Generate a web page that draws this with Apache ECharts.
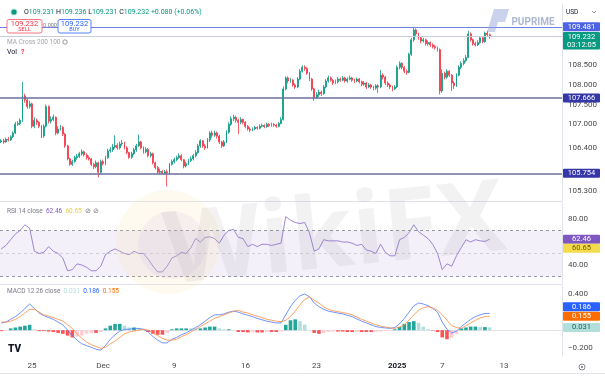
<!DOCTYPE html>
<html lang="en">
<head>
<meta charset="UTF-8">
<title>USDJPY 4H</title>
<script src="https://cdn.jsdelivr.net/npm/echarts/dist/echarts.min.js"></script>
<style>
  body { margin: 0; background: #fff; }
  #root { width: 605px; height: 378px; }
</style>
</head>
<body>
<div id="root"></div>
<script>
// ---- data (4h candles) ----
var SLOTS = 237;              // bars incl. empty space on the right
var firstOpen = 106.55;

var closes = [
  106.58,106.55,106.62,106.60,106.68,106.78,107.00,107.02,107.10,107.72,
  107.62,107.45,107.52,106.95,107.10,107.05,106.95,106.70,106.95,107.45,
  107.08,107.12,107.18,106.78,106.88,106.92,106.75,106.45,106.12,105.98,
  106.05,106.15,106.18,106.25,106.30,106.22,106.15,106.12,105.98,105.92,
  106.02,105.78,106.05,106.00,106.15,106.32,106.35,106.42,106.46,106.40,
  106.50,106.52,106.40,106.28,106.16,106.25,106.35,106.45,106.55,106.40,
  106.30,106.36,106.20,106.25,106.02,105.90,105.78,105.80,105.76,105.79,
  105.77,105.98,106.05,106.10,106.15,106.20,106.10,105.94,106.00,106.08,
  106.12,106.20,106.28,106.45,106.58,106.45,106.40,106.60,106.78,106.72,
  106.78,106.70,106.55,106.45,106.55,106.80,107.00,107.14,107.18,107.10,
  107.05,107.12,107.05,106.95,106.88,106.85,106.88,106.92,106.90,106.95,
  106.97,106.94,107.00,106.97,107.00,106.98,106.95,107.02,107.12,107.90,
  108.18,108.10,108.12,108.00,107.95,108.15,108.35,108.45,108.42,108.30,
  108.15,107.90,107.68,107.75,107.82,107.78,107.95,108.10,108.18,108.12,
  108.05,108.08,108.15,108.12,108.18,108.10,108.15,108.18,108.12,108.10,
  108.15,108.08,108.02,108.05,107.95,108.00,107.95,107.92,107.98,107.95,
  108.25,108.20,108.05,108.00,107.95,107.90,107.95,108.45,108.55,108.45,
  108.35,108.32,108.78,109.15,109.40,109.30,109.20,109.12,109.15,109.05,
  109.08,109.02,108.98,108.95,108.90,107.85,108.30,108.20,108.35,108.25,
  108.05,107.98,108.25,108.45,108.55,108.62,108.70,109.30,109.15,109.05,
  109.02,109.08,109.20,109.10,109.32,109.28,109.231,109.232
];
var highs = [
  106.62,106.63,106.66,106.68,106.72,106.82,107.06,107.08,107.15,108.08,
  107.78,107.66,107.60,107.55,107.18,107.15,107.08,106.98,107.00,107.50,
  107.48,107.20,107.25,107.20,106.95,106.98,106.96,106.78,106.48,106.15,
  106.10,106.20,106.24,106.30,106.36,106.33,106.26,106.20,106.14,106.02,
  106.08,106.05,106.10,106.10,106.20,106.38,106.42,106.50,106.72,106.52,
  106.56,106.60,106.56,106.44,106.30,106.30,106.40,106.50,106.74,106.58,
  106.44,106.42,106.40,106.30,106.28,106.05,105.94,105.86,105.84,105.84,
  105.85,106.02,106.10,106.15,106.20,106.26,106.24,106.12,106.05,106.12,
  106.18,106.25,106.34,106.50,106.62,106.60,106.50,106.65,106.82,106.84,
  106.84,106.82,106.73,106.58,106.60,106.85,107.05,107.20,107.24,107.22,
  107.14,107.18,107.15,107.08,106.98,106.92,106.92,106.96,106.95,107.00,
  107.02,107.00,107.04,107.03,107.04,107.03,107.01,107.06,107.18,107.96,
  108.22,108.22,108.18,108.15,108.04,108.20,108.40,108.50,108.50,108.45,
  108.33,108.18,107.93,107.82,107.88,107.86,108.00,108.15,108.24,108.22,
  108.15,108.14,108.20,108.19,108.23,108.21,108.19,108.24,108.21,108.16,
  108.19,108.18,108.11,108.10,108.08,108.05,108.03,107.98,108.02,108.02,
  108.38,108.30,108.23,108.09,108.04,107.98,108.00,108.50,108.60,108.58,
  108.48,108.40,108.82,109.20,109.48,109.44,109.33,109.24,109.20,109.18,
  109.13,109.11,109.06,109.02,108.98,108.93,108.40,108.34,108.40,108.38,
  108.28,108.10,108.30,108.50,108.60,108.68,108.76,109.38,109.34,109.18,
  109.10,109.14,109.25,109.24,109.36,109.38,109.31,109.236
];
var lows = [
  106.52,106.50,106.53,106.56,106.58,106.65,106.75,106.96,106.98,107.06,
  107.55,107.40,107.40,106.90,106.90,106.98,106.90,106.65,106.66,106.92,
  107.02,107.02,107.08,106.72,106.74,106.84,106.70,106.40,106.08,105.95,
  105.94,106.02,106.10,106.14,106.20,106.18,106.10,106.08,105.94,105.86,
  105.88,105.65,105.74,105.95,105.96,106.12,106.28,106.30,106.38,106.35,
  106.36,106.45,106.36,106.24,106.12,106.12,106.22,106.30,106.42,106.36,
  106.25,106.26,106.16,106.15,105.98,105.85,105.74,105.74,105.72,105.72,
  105.42,105.74,105.95,106.00,106.06,106.12,106.06,105.88,105.90,105.96,
  106.04,106.08,106.16,106.25,106.40,106.40,106.35,106.38,106.55,106.66,
  106.68,106.64,106.50,106.40,106.42,106.52,106.76,106.96,107.08,107.04,
  106.75,107.00,107.00,106.90,106.84,106.80,106.82,106.85,106.86,106.87,
  106.92,106.90,106.91,106.93,106.94,106.94,106.91,106.92,107.00,107.10,
  107.86,108.04,108.05,107.96,107.90,107.92,108.12,108.32,108.36,108.26,
  108.10,107.85,107.60,107.64,107.70,107.72,107.75,107.92,108.06,108.08,
  108.00,108.02,108.04,108.08,108.10,108.06,108.06,108.12,108.08,108.05,
  108.07,108.04,107.97,107.98,107.90,107.92,107.90,107.86,107.88,107.80,
  107.92,108.14,108.00,107.95,107.90,107.84,107.87,107.92,108.40,108.40,
  108.30,108.26,108.30,108.74,109.10,109.25,109.15,109.06,109.08,109.00,
  109.00,108.97,108.93,108.90,108.85,107.76,107.80,108.14,108.16,108.20,
  107.85,107.90,107.95,108.22,108.40,108.50,108.58,108.68,109.10,109.00,
  108.98,108.99,109.05,109.06,109.08,109.22,109.18,109.231
];

// indicators, one reading every 2nd bar
var rsi = [
  54,57,62,67,70,75,72,52,50,51, 56,52,50,46,35,36,41,40,38,35,
  35,39,49,52,54,52,50,49,52,50, 50,45,39,34,34,39,46,48,51,50,
  55,63,60,64,64.5,63,59,66,70,71, 64,63,56,58,56,58,58,57,58,59,
  82,79,77,76,77,68,52,54,62,61, 61,61,60,60,59,57,58,53,52,50,
  58,51,48,48,62,64,68,75,69,66, 63,58,50,36,41,39,48,55,62,60,
  62,61,60.5,62.46
];
var rsiMaLast = 60.65;
var macd = [
  0.08,0.09,0.12,0.15,0.19,0.24,0.29,0.24,0.19,0.16,
  0.14,0.12,0.09,0.06,0.0,-0.06,-0.11,-0.15,-0.17,-0.19,
  -0.21,-0.22,-0.17,-0.10,-0.05,-0.01,0.01,0.01,0.02,0.02,
  0.01,-0.02,-0.07,-0.11,-0.14,-0.14,-0.10,-0.08,-0.05,-0.03,
  0.0,0.03,0.06,0.10,0.14,0.17,0.17,0.18,0.20,0.21,
  0.20,0.18,0.165,0.15,0.13,0.115,0.10,0.09,0.08,0.08,
  0.17,0.26,0.33,0.38,0.40,0.37,0.30,0.26,0.23,0.21,
  0.20,0.19,0.18,0.165,0.15,0.125,0.10,0.08,0.06,0.04,
  0.03,0.025,0.02,0.03,0.07,0.13,0.20,0.27,0.30,0.29,
  0.27,0.24,0.20,0.09,0.01,-0.03,-0.01,0.04,0.08,0.12,
  0.15,0.17,0.185,0.186
];
var signal = [
  0.09,0.09,0.10,0.12,0.15,0.19,0.23,0.23,0.20,0.17,
  0.155,0.14,0.12,0.10,0.06,0.02,-0.04,-0.09,-0.13,-0.16,
  -0.18,-0.20,-0.19,-0.15,-0.12,-0.08,-0.04,-0.02,-0.01,0.0,
  0.01,0.0,-0.03,-0.06,-0.09,-0.11,-0.11,-0.10,-0.07,-0.05,
  -0.02,0.01,0.04,0.07,0.10,0.13,0.15,0.17,0.19,0.21,
  0.22,0.20,0.19,0.17,0.155,0.14,0.12,0.11,0.10,0.095,
  0.11,0.15,0.21,0.28,0.34,0.37,0.33,0.30,0.26,0.23,
  0.215,0.205,0.195,0.185,0.17,0.145,0.12,0.10,0.08,0.06,
  0.045,0.035,0.025,0.02,0.035,0.06,0.11,0.17,0.22,0.25,
  0.26,0.245,0.22,0.17,0.11,0.05,0.03,0.02,0.05,0.08,
  0.11,0.135,0.15,0.155
];

var levels = [109.481, 107.666, 105.754];
var timeTicks = [13, 43, 73, 103, 133, 167, 186, 212];
var timeLabels = ['25', 'Dec', '9', '16', '23', '2025', '7', '13'];
var priceTicks = [105.3, 106.4, 107.0, 107.5, 108.0, 108.5, 109.0];
var rsiTicks = [40, 80];
var macdTicks = [-0.2, 0.4];
var countdown = '03:12:05';

// ---- build ----
var FONT = 'Roboto, "Noto Sans", sans-serif';
var UP = '#089981', DOWN = '#f23645';

var cats = [];
for (var s = 0; s < SLOTS; s++) cats.push('b' + s);

var candles = closes.map(function (c, i) {
    var o = i === 0 ? firstOpen : closes[i - 1];
    return [o, c, Math.min(lows[i], o, c), Math.max(highs[i], o, c)];
});
var rsiPts = rsi.map(function (v, k) { return [k * 2, v]; });
var macdPts = macd.map(function (v, k) { return [k * 2, v]; });
var sigPts = signal.map(function (v, k) { return [k * 2, v]; });
var histPts = macd.map(function (v, k) {
    var h = v - signal[k];
    var prev = k > 0 ? macd[k - 1] - signal[k - 1] : h;
    var col = h >= 0 ? (h >= prev ? '#26a69a' : '#b2dfdb') : (h <= prev ? '#ff5252' : '#ffcdd2');
    return { value: [k * 2, h], itemStyle: { color: col } };
});

var chart = echarts.init(document.getElementById('root'));

function xAxisFor(g) {
    return {
        type: 'category', gridIndex: g, data: cats, boundaryGap: true,
        axisLine: { show: true, lineStyle: { color: '#e0e3eb' } },
        axisTick: { show: false },
        splitLine: { show: false },
        axisLabel: g === 2 ? {
            interval: function (idx) { return timeTicks.indexOf(idx) >= 0; },
            formatter: function (v, idx) {
                var k = timeTicks.indexOf(idx);
                if (k < 0) return '';
                return timeLabels[k] === '2025' ? '{b|2025}' : timeLabels[k];
            },
            rich: { b: { fontWeight: 'bold', color: '#131722', fontSize: 8, fontFamily: FONT } },
            color: '#4a4a4a', fontSize: 8, margin: 6, fontFamily: FONT
        } : { show: false }
    };
}

function yAxisFor(g, min, max, ticks, fmt) {
    return {
        type: 'value', gridIndex: g, position: 'right', min: min, max: max,
        axisLine: { show: true, lineStyle: { color: '#e0e3eb' } },
        axisTick: { show: false },
        splitLine: { show: false },
        axisLabel: { customValues: ticks, formatter: fmt, color: '#4a4a4a', fontSize: 8, margin: 6, fontFamily: FONT }
    };
}

var option = {
    animation: false,
    backgroundColor: '#ffffff',
    grid: [
        { left: 0, right: 43, top: 4, height: 197 },
        { left: 0, right: 43, top: 203, height: 81 },
        { left: 0, right: 43, top: 286, height: 70 }
    ],
    xAxis: [xAxisFor(0), xAxisFor(1), xAxisFor(2)],
    yAxis: [
        yAxisFor(0, 105.048, 110.061, priceTicks, function (v) { return v.toFixed(3); }),
        yAxisFor(1, 23.48, 93.91, rsiTicks, function (v) { return v.toFixed(2); }),
        yAxisFor(2, -0.2851, 0.4884, macdTicks, function (v) { return (v < 0 ? '\u2212' : '') + Math.abs(v).toFixed(3); })
    ],
    series: [
        {
            type: 'candlestick', xAxisIndex: 0, yAxisIndex: 0, data: candles,
            barWidth: 1.4,
            itemStyle: { color: UP, color0: DOWN, borderColor: UP, borderColor0: DOWN, borderWidth: 0.8 },
            markLine: {
                silent: true, symbol: 'none', label: { show: false },
                data: [
                    { yAxis: levels[0], lineStyle: { color: '#7282e2', width: 1, type: 'solid' } },
                    { yAxis: levels[1], lineStyle: { color: '#6b6f9c', width: 1.6, type: 'solid' } },
                    { yAxis: levels[2], lineStyle: { color: '#6b6f9c', width: 1.6, type: 'solid' } },
                    { yAxis: closes[closes.length - 1], lineStyle: { color: '#c8cdd8', width: 1, type: 'solid' } }
                ]
            }
        },
        {
            type: 'line', xAxisIndex: 1, yAxisIndex: 1, data: rsiPts, showSymbol: false,
            lineStyle: { color: '#8a68c9', width: 0.8 },
            markArea: {
                silent: true,
                itemStyle: { color: 'rgba(126,87,194,0.09)' },
                data: [[{ yAxis: 30 }, { yAxis: 70 }]]
            },
            markLine: {
                silent: true, symbol: 'none', label: { show: false },
                data: [
                    { yAxis: 70, lineStyle: { color: '#9598a1', width: 1, type: [3, 3] } },
                    { yAxis: 50, lineStyle: { color: 'rgba(149,152,161,0.35)', width: 1, type: [3, 3] } },
                    { yAxis: 30, lineStyle: { color: '#9598a1', width: 1, type: [3, 3] } }
                ]
            }
        },
        {
            type: 'bar', xAxisIndex: 2, yAxisIndex: 2, data: histPts, barWidth: 3.6
        },
        {
            type: 'line', xAxisIndex: 2, yAxisIndex: 2, data: macdPts, showSymbol: false,
            lineStyle: { color: '#4a78ff', width: 0.8 }
        },
        {
            type: 'line', xAxisIndex: 2, yAxisIndex: 2, data: sigPts, showSymbol: false,
            lineStyle: { color: '#ff8a3d', width: 0.8 }
        }
    ]
};
chart.setOption(option);

// ---- static texts / decorations ----
var gfx = [
    // WikiFX watermark
    { type: 'circle', z: 50, silent: true, shape: { cx: 168, cy: 242, r: 52 }, style: { fill: 'rgba(252,222,150,0.15)' } },
    { type: 'circle', z: 50, silent: true, shape: { cx: 172, cy: 245, r: 34 }, style: { fill: 'rgba(190,178,230,0.14)' } },
    { type: 'text', z: 50, silent: true, x: 335, y: 238, rotation: 0.1,
      style: { text: 'WikiFX', font: 'bold 100px "Open Sans", sans-serif', fill: 'rgba(140,140,150,0.11)', align: 'center', verticalAlign: 'middle' } },
    // PU Prime watermark
    { type: 'polygon', z: 50, silent: true, shape: { points: [[487, 32], [494, 9], [509, 9], [505, 22], [498, 22], [495, 32]] },
      style: { fill: 'rgba(150,168,215,0.5)' } },
    { type: 'text', z: 50, silent: true, x: 533, y: 22,
      style: { text: 'PUPRIME', font: 'bold 10px ' + FONT, fill: 'rgba(160,170,205,0.85)', align: 'center', verticalAlign: 'middle' } },
    // header
    { type: 'circle', z: 60, shape: { cx: 14, cy: 12, r: 2.6 }, style: { fill: UP, stroke: 'rgba(8,153,129,0.25)', lineWidth: 2 } },
    { type: 'text', z: 60, x: 24, y: 12,
      style: { text: '{k|O}{v|109.231} {k|H}{v|109.236} {k|L}{v|109.231} {k|C}{v|109.232} {v|+0.080 (+0.06%)}',
               verticalAlign: 'middle', font: '7px ' + FONT,
               rich: { k: { fill: '#131722', font: '7px ' + FONT }, v: { fill: UP, font: '7px ' + FONT } } } },
    { type: 'rect', z: 60, shape: { x: 7, y: 19.5, width: 35, height: 13.5, r: 2 }, style: { fill: '#fff', stroke: '#f7525f', lineWidth: 0.8 } },
    { type: 'text', z: 61, x: 24.5, y: 24, style: { text: '109.232', font: '7.5px ' + FONT, fill: '#f23645', align: 'center', verticalAlign: 'middle' } },
    { type: 'text', z: 61, x: 24.5, y: 30, style: { text: 'SELL', font: '5.5px ' + FONT, fill: '#f23645', align: 'center', verticalAlign: 'middle' } },
    { type: 'text', z: 61, x: 50, y: 26, style: { text: '0.000', font: '5.5px ' + FONT, fill: '#787b86', align: 'center', verticalAlign: 'middle' } },
    { type: 'rect', z: 60, shape: { x: 58, y: 19.5, width: 33, height: 13.5, r: 2 }, style: { fill: '#fff', stroke: '#2962ff', lineWidth: 0.8 } },
    { type: 'text', z: 61, x: 74.5, y: 24, style: { text: '109.232', font: '7.5px ' + FONT, fill: '#2962ff', align: 'center', verticalAlign: 'middle' } },
    { type: 'text', z: 61, x: 74.5, y: 30, style: { text: 'BUY', font: '5.5px ' + FONT, fill: '#2962ff', align: 'center', verticalAlign: 'middle' } },
    { type: 'text', z: 60, x: 7, y: 42, style: { text: 'MA Cross 200 100', font: '6.5px ' + FONT, fill: '#a3a6af', verticalAlign: 'middle' } },
    { type: 'circle', z: 60, shape: { cx: 65, cy: 42, r: 2.2 }, style: { fill: 'none', stroke: '#787b86', lineWidth: 0.8 } },
    { type: 'text', z: 60, x: 7, y: 52, style: { text: 'Vol', font: '7px ' + FONT, fill: '#131722', verticalAlign: 'middle' } },
    { type: 'text', z: 60, x: 21, y: 52, style: { text: '?', font: 'bold 7px ' + FONT, fill: '#f23645', verticalAlign: 'middle' } },
    { type: 'text', z: 60, x: 566, y: 12, style: { text: 'USD', font: '6.5px ' + FONT, fill: '#131722', verticalAlign: 'middle' } },
    { type: 'polyline', z: 60, shape: { points: [[592, 11], [594, 13], [596, 11]] }, style: { stroke: '#787b86', lineWidth: 0.8, fill: 'none' } },
    // pane legends
    { type: 'text', z: 60, x: 7, y: 211,
      style: { text: '{g|RSI 14 close}  {p|62.46}  {y|60.65}  {g|\u2298 \u2298}', verticalAlign: 'middle', font: '6.5px ' + FONT,
               rich: { g: { fill: '#787b86', font: '6.5px ' + FONT }, p: { fill: '#7e57c2', font: '6.5px ' + FONT }, y: { fill: '#e6cf55', font: '6.5px ' + FONT } } } },
    { type: 'text', z: 60, x: 7, y: 291,
      style: { text: '{g|MACD 12 26 close}  {h|0.031}  {b|0.186}  {o|0.155}', verticalAlign: 'middle', font: '6.5px ' + FONT,
               rich: { g: { fill: '#787b86', font: '6.5px ' + FONT }, h: { fill: '#b2dfdb', font: '6.5px ' + FONT },
                       b: { fill: '#2962ff', font: '6.5px ' + FONT }, o: { fill: '#ff6d00', font: '6.5px ' + FONT } } } },
    // TV logo, settings, bottom rule
    { type: 'text', z: 60, x: 8, y: 349, style: { text: 'TV', font: '900 10px ' + FONT, fill: '#131722', verticalAlign: 'middle' } },
    { type: 'circle', z: 60, shape: { cx: 582, cy: 367, r: 3 }, style: { fill: 'none', stroke: '#6a6d78', lineWidth: 0.8 } },
    { type: 'circle', z: 60, shape: { cx: 582, cy: 367, r: 1 }, style: { fill: '#6a6d78' } },
    { type: 'line', z: 60, shape: { x1: 0, y1: 373.5, x2: 605, y2: 373.5 }, style: { stroke: '#e0e3eb', lineWidth: 1 } }
];

// ---- value tags on the price scales ----
var lastH = macd[macd.length - 1] - signal[signal.length - 1];
var tags = [
    { axis: 0, value: closes[closes.length - 1], lines: [closes[closes.length - 1].toFixed(3), countdown], bg: UP, fg: '#fff' },
    { axis: 0, value: levels[0], lines: [levels[0].toFixed(3)], bg: '#4d63e3', fg: '#fff' },
    { axis: 0, value: levels[1], lines: [levels[1].toFixed(3)], bg: '#3536a8', fg: '#fff' },
    { axis: 0, value: levels[2], lines: [levels[2].toFixed(3)], bg: '#3536a8', fg: '#fff' },
    { axis: 1, value: rsi[rsi.length - 1], lines: [rsi[rsi.length - 1].toFixed(2)], bg: '#7e57c2', fg: '#fff' },
    { axis: 1, value: rsiMaLast, lines: [rsiMaLast.toFixed(2)], bg: '#f5dc4c', fg: '#6b5a00' },
    { axis: 2, value: signal[signal.length - 1], lines: [signal[signal.length - 1].toFixed(3)], bg: '#ff6d00', fg: '#fff' },
    { axis: 2, value: lastH, lines: [lastH.toFixed(3)], bg: '#b2dfdb', fg: '#17695c' },
    { axis: 2, value: macd[macd.length - 1], lines: [macd[macd.length - 1].toFixed(3)], bg: '#2962ff', fg: '#fff' }
];
var placed = [];
function free(top, h) {
    for (var i = 0; i < placed.length; i++) {
        if (top < placed[i][1] && top + h > placed[i][0]) return false;
    }
    return true;
}
tags.forEach(function (t) {
    var yc = chart.convertToPixel({ yAxisIndex: t.axis }, t.value);
    var h = 8.5 * t.lines.length + 0.5;
    var top0 = yc - 4.5, top = top0;
    for (var d = 0; d <= 40; d += 0.5) {
        if (free(top0 + d, h)) { top = top0 + d; break; }
        if (free(top0 - d, h)) { top = top0 - d; break; }
    }
    placed.push([top, top + h]);
    gfx.push({ type: 'rect', z: 70, shape: { x: 563, y: top, width: 37, height: h, r: 1 }, style: { fill: t.bg } });
    t.lines.forEach(function (txt, k) {
        gfx.push({ type: 'text', z: 71, x: 581.5, y: top + 4.7 + 8.5 * k,
                   style: { text: txt, font: '7.5px ' + FONT, fill: t.fg, align: 'center', verticalAlign: 'middle' } });
    });
});

chart.setOption({ graphic: { elements: gfx } });
</script>
</body>
</html>
